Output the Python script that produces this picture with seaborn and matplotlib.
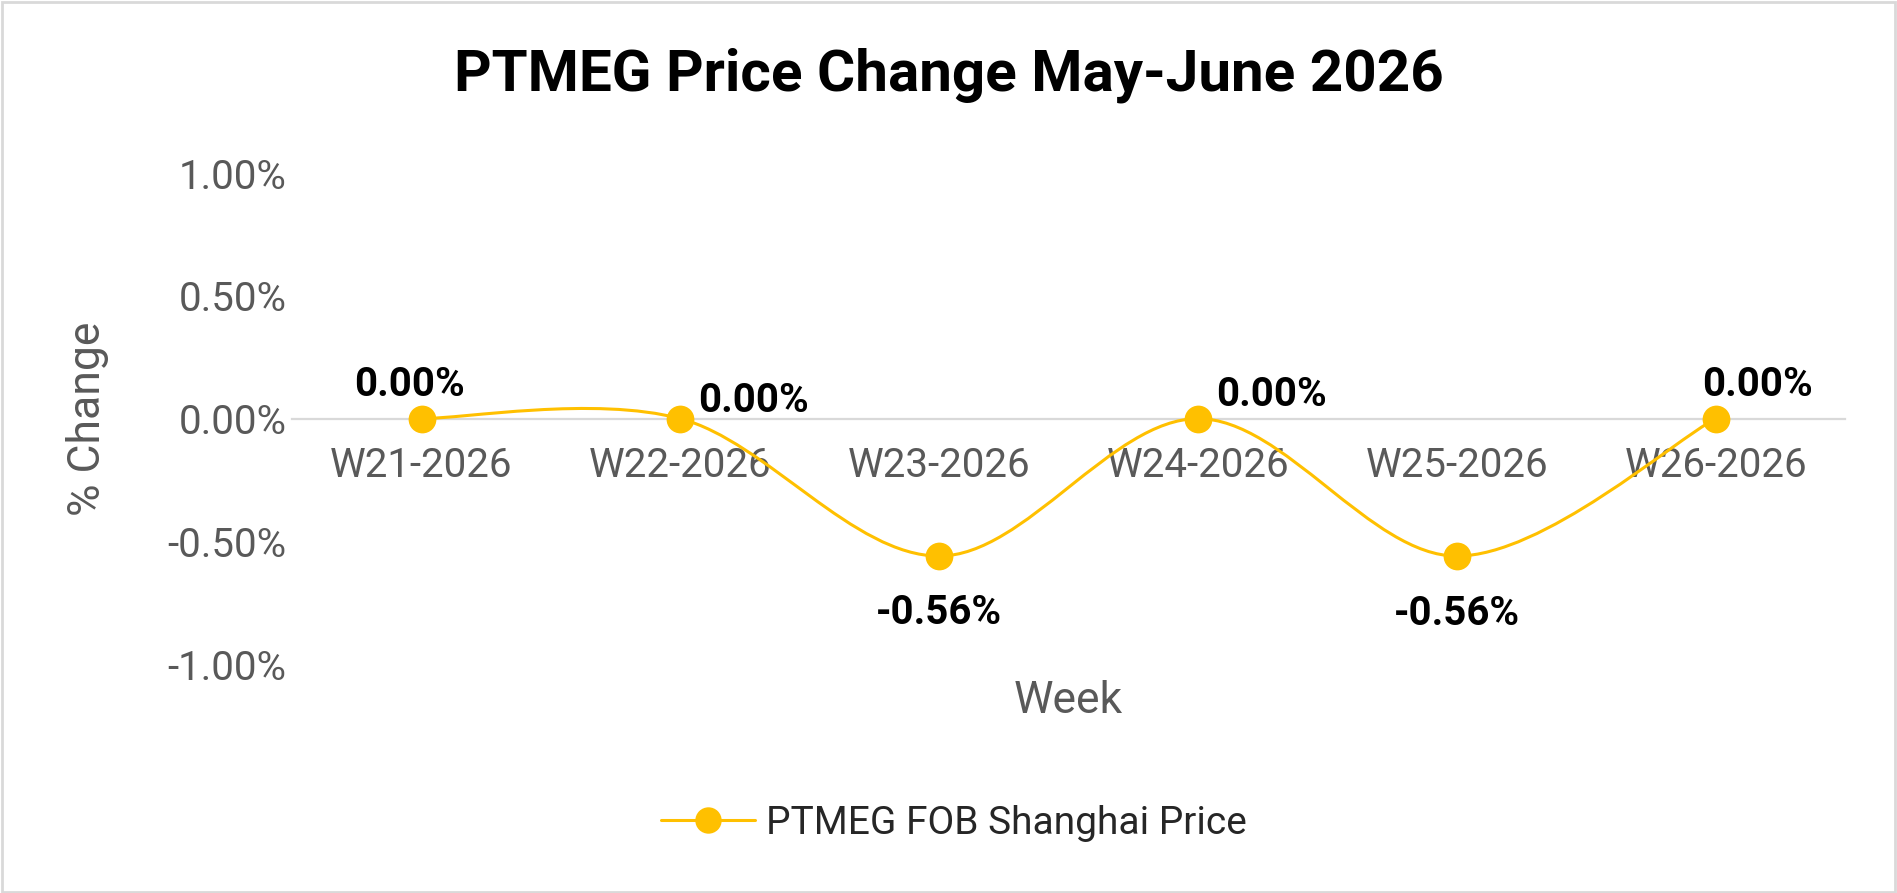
import numpy as np
import pandas as pd
import matplotlib
matplotlib.use("Agg")
import matplotlib.pyplot as plt
import seaborn as sns
from matplotlib.path import Path
from matplotlib.patches import PathPatch, Rectangle
from matplotlib.lines import Line2D
from matplotlib.ticker import PercentFormatter

# data
weeks = ["W21-2026", "W22-2026", "W23-2026", "W24-2026", "W25-2026", "W26-2026"]
price_change = [0.0, 0.0, -0.0056, 0.0, -0.0056, 0.0]
series_name = "PTMEG FOB Shanghai Price"
title = "PTMEG Price Change May-June 2026"

# label placement per point (offset in points from the marker)
label_offsets = [(-9, 24), (53, 13), (0, -41), (53, 17), (0, -42), (30, 24)]

GOLD = "#FFC000"
GREY = "#595959"

df = pd.DataFrame({"pos": np.arange(len(weeks)), "week": weeks, "change": price_change})

sns.set_theme(style="white")
plt.rcParams["font.family"] = ["Roboto", "DejaVu Sans"]
plt.rcParams["axes.unicode_minus"] = False

fig = plt.figure(figsize=(18.97, 8.93), dpi=100)
ax = fig.add_axes([0.154, 0.2564, 0.8186, 0.5496])

# smoothed line like Excel (catmull-rom bezier through the points)
xs = df["pos"].to_numpy(float)
ys = df["change"].to_numpy(float)
n = len(xs)
verts = [(xs[0], ys[0])]
codes = [Path.MOVETO]
for i in range(n - 1):
    p0 = i - 1 if i > 0 else i
    p3 = i + 2 if i + 2 < n else i + 1
    c1 = (xs[i] + (xs[i + 1] - xs[p0]) / 6, ys[i] + (ys[i + 1] - ys[p0]) / 6)
    c2 = (xs[i + 1] - (xs[p3] - xs[i]) / 6, ys[i + 1] - (ys[p3] - ys[i]) / 6)
    verts += [c1, c2, (xs[i + 1], ys[i + 1])]
    codes += [Path.CURVE4] * 3
ax.add_patch(PathPatch(Path(verts, codes), facecolor="none", edgecolor=GOLD,
                       lw=2.2, zorder=3))

sns.scatterplot(data=df, x="pos", y="change", color=GOLD, s=400, edgecolor=GOLD,
                linewidth=0, zorder=4, ax=ax, legend=False)

for (x, y), (dx, dy) in zip(zip(xs, ys), label_offsets):
    ax.annotate(f"{y:.2%}", (x, y), xytext=(dx, dy), textcoords="offset points",
                ha="center", va="center", fontsize=29, fontweight="bold",
                color="black", zorder=5)

ax.set_xlim(-0.5, n - 0.5)
ax.set_ylim(-0.01, 0.01)
ax.set_yticks([-0.01, -0.005, 0, 0.005, 0.01])
ax.yaxis.set_major_formatter(PercentFormatter(1, decimals=2))
ax.set_xticks(df["pos"], weeks)

for side in ["top", "right", "left"]:
    ax.spines[side].set_visible(False)
ax.spines["bottom"].set_position(("data", 0))
ax.spines["bottom"].set_color("#D9D9D9")
ax.spines["bottom"].set_linewidth(1.6)
ax.spines["bottom"].set_zorder(2)

ax.tick_params(axis="x", length=0, pad=20, labelsize=29, labelcolor=GREY)
ax.tick_params(axis="y", length=0, pad=4, labelsize=29, labelcolor=GREY)

ax.set_xlabel("Week", fontsize=32, color=GREY)
ax.xaxis.set_label_coords(0.5, -0.075)
ax.xaxis.label.set_va("center")
ax.set_ylabel("% Change", fontsize=32, color=GREY)
ax.yaxis.set_label_coords(-0.132, 0.5)
ax.yaxis.label.set_va("center")

fig.text(0.5, 0.916, title, ha="center", va="center", fontsize=42,
         fontweight="bold", color="black")

handle = Line2D([], [], color=GOLD, lw=2.2, marker="o", markersize=19,
                markeredgewidth=0)
fig.legend([handle], [series_name], loc="center", bbox_to_anchor=(0.503, 0.078),
           frameon=False, fontsize=28, handlelength=2.4, handletextpad=0.3)

fig.patches.append(Rectangle((0.001, 0.001), 0.998, 0.997, transform=fig.transFigure,
                             fill=False, edgecolor="#D9D9D9", lw=2))

plt.savefig("out.png", dpi=100, facecolor="white")
